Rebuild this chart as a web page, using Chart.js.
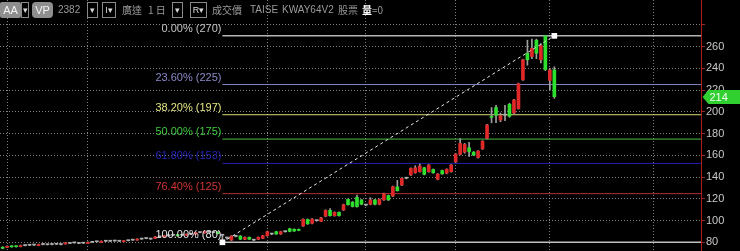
<!DOCTYPE html>
<html>
<head>
<meta charset="utf-8">
<script src="https://cdn.jsdelivr.net/npm/chart.js@4.4.1/dist/chart.umd.min.js"></script>
<style>
  html, body { margin: 0; padding: 0; background: #000; }
  #wrap { position: relative; width: 740px; height: 251px; overflow: hidden; }
  #bar { position: absolute; left: 0; top: 0; width: 400px; height: 20px;
         font-family: "Liberation Sans", "Noto Sans CJK TC", sans-serif; font-size: 10px; color: #9a9a9a; }
  #bar span { position: absolute; top: 4px; line-height: 12px; white-space: nowrap; }
  #bar .box { top: 2px; height: 16px; line-height: 14px; box-sizing: border-box; border: 1px solid #8a8a8a;
              text-align: center; color: #d8d8d8; font-size: 9px; }
  #bar .fill { top: 2px; height: 16px; line-height: 16px; background: #8e8e8e; color: #f4f4f4;
               text-align: center; border-radius: 2px; font-size: 11px; }
  #bar .cjk { font-family: "Noto Sans CJK TC", sans-serif; }
</style>
</head>
<body>
<div id="wrap">
  <canvas id="kchart" width="740" height="251"></canvas>
  <div id="bar">
    <span class="fill" style="left:0;width:21px">AA</span>
    <span class="box" style="left:21px;width:8px">▾</span>
    <span class="fill" style="left:32px;width:21px;border-radius:4px">VP</span>
    <span style="left:58px">2382</span>
    <span class="box" style="left:87px;width:11px">▾</span>
    <span class="box" style="left:102px;width:14px">I▾</span>
    <span class="cjk" style="left:122px">廣達</span>
    <span class="cjk" style="left:148px">1 日</span>
    <span class="box" style="left:172px;width:11px">▾</span>
    <span class="box" style="left:190px;width:17px">R▾</span>
    <span class="cjk" style="left:212px">成交價</span>
    <span style="left:250px">TAISE</span>
    <span style="left:282px">KWAY64V2</span>
    <span class="cjk" style="left:338px">股票</span>
    <span class="cjk" style="left:362px"><b style="color:#fff">量</b>=0</span>
  </div>
</div>
<script>
// 日K資料 (由左至右, 共124根)
const opens = [
  75.5, 75.3, 76.5, 76.5, 76, 77, 77.3, 77.5, 77, 78, 77.8, 78, 78.2, 78, 78.5, 79, 79.5, 79, 79.2, 79,
  80, 80.5, 80, 81, 81, 81.2, 81, 80.5, 81.5, 82, 82, 83, 83.5, 83, 83.5, 85, 85, 86, 86.5, 87,
  86.5, 86.5, 87.5, 87.5, 89, 88.5, 89.5, 89, 89.5, 86.5, 84, 82, 85.5, 85.8, 82.8, 84.6, 82, 82.8, 83.7, 86,
  87.6, 89.8, 87.6, 89.8, 92.5, 92, 91.9, 95, 101, 97.5, 99.9, 99.3, 104, 109.4, 104.5, 107.6, 109.7, 119.5, 117, 121.4,
  119, 114.3, 115, 119, 115, 119, 123, 122.6, 131, 132.7, 139, 142, 144, 145, 148.6, 145, 147, 138, 146, 143.5,
  145, 154, 161, 163, 167, 163, 158, 166, 175.7, 196, 204, 192.5, 197, 207, 199, 203, 229.5, 254, 251, 266,
  248, 270, 229, 238.6
];
const highs = [
  76, 76.8, 77, 76.8, 77.5, 77.4, 77.7, 77.9, 78.4, 78.3, 78.2, 78.4, 78.6, 78.3, 79.8, 79.4, 79.8, 79.4, 79.5, 80.4,
  80.3, 80.8, 81.4, 81.3, 81.4, 81.5, 81.3, 81.8, 81.8, 82.3, 83.4, 83.3, 83.8, 83.3, 85.4, 85.3, 86.4, 86.3, 86.8, 87.3,
  86.8, 87.8, 87.8, 89.4, 89.3, 90.4, 89.8, 89.3, 89.8, 87, 84.5, 86.2, 86, 86.2, 85, 85, 82.5, 85, 86.5, 90.3,
  88.2, 90.2, 90.2, 90.3, 93, 92.4, 92.3, 101.7, 101.5, 101.9, 100.4, 102.9, 109.9, 111, 108.1, 108.1, 115.1, 120, 117.5, 123.5,
  119.5, 115, 121, 119.5, 120, 125.2, 123.5, 131.7, 137, 139.4, 139.8, 148.5, 150.5, 152, 149.1, 151.6, 147.5, 143.3, 146.5, 147.7,
  151.6, 161.7, 175.5, 171, 172, 163.5, 164.5, 173.5, 188.5, 204, 206, 199, 206, 208, 211.5, 226.5, 248.5, 266, 267, 267,
  263, 270.5, 240, 241.5
];
const lows = [
  74, 75, 75.5, 75.6, 75.8, 76.6, 77, 77.2, 76.8, 77.7, 77.5, 77.7, 77.9, 77.6, 78.3, 78.7, 79.1, 78.7, 78.9, 78.8,
  79.7, 80.2, 79.8, 80.7, 80.6, 80.9, 80.7, 80.3, 81.2, 81.7, 81.8, 82.7, 83.2, 82.7, 83.3, 84.7, 84.8, 85.7, 86.2, 85.7,
  86.2, 86.3, 87.2, 87.3, 88.7, 88.3, 89.2, 88.7, 87.7, 80, 83, 81.6, 85, 82.4, 82.4, 82.4, 81.6, 82.4, 83.3, 85.6,
  87, 87.2, 87.2, 89.3, 89.6, 90, 90.6, 94.6, 96.5, 97, 99.4, 98.9, 103.5, 104, 104, 104, 109.2, 114.1, 112.5, 112.3,
  114.5, 113.7, 114.5, 114.5, 114.5, 118.5, 118.5, 122, 127, 132.2, 138.4, 141.5, 143.5, 144.5, 142, 144.5, 143.5, 137.5, 142.5, 143,
  144.5, 153.5, 160.5, 162, 159, 159.8, 157.5, 165.5, 175.2, 190, 190, 191, 192, 195, 198.5, 202.5, 229, 243, 249, 249,
  245, 238, 220, 212.5
];
const closes = [
  74.5, 76.3, 75.8, 76, 77, 77, 77.3, 77.5, 78, 78, 77.8, 78, 78.2, 78, 79.5, 79, 79.5, 79, 79.2, 80,
  80, 80.5, 81, 81, 81, 81.2, 81, 81.5, 81.5, 82, 83, 83, 83.5, 83, 85, 85, 86, 86, 86.5, 86,
  86.5, 87.5, 87.5, 89, 89, 90, 89.5, 89, 88, 86.5, 84, 85.8, 85.5, 82.8, 84.6, 82.8, 82, 84.6, 86.1, 89.8,
  87.6, 87.6, 89.8, 89.8, 90, 90.4, 91, 101.2, 97, 101.4, 99.9, 102.4, 109.4, 104.5, 107.6, 104.5, 114.6, 114.6, 113, 112.8,
  115, 114.3, 119, 115, 119.5, 124.7, 119, 131.2, 127.5, 138.9, 139, 148, 148.6, 150.2, 142.5, 151.1, 144, 142.8, 143, 147.2,
  151.1, 161.2, 171, 170, 163.5, 160.3, 164, 173, 188, 195, 197, 196.5, 197, 196, 211, 226, 248, 248, 258.5, 254,
  261, 239, 238.6, 214
];

// 月份分隔線 (K棒序號) 與價格刻度
const monthLines = [1, 19, 59, 81, 101, 122, 145];
const yTicks = [80, 100, 120, 140, 160, 180, 200, 220, 240, 260, 280];

// 黃金切割率
const fibStart = { idx: 49, price: 80 };
const fibEnd = { idx: 123, price: 270 };
const fibPercents = ['0.00%', '23.60%', '38.20%', '50.00%', '61.80%', '76.40%', '100.00%'];
const fibLevels = [270, 225.2, 197.4, 175, 152.6, 124.8, 80];
const fibShown = [270, 225, 197, 175, 153, 125, 80];
const fibLineColors = ['#b4b4b4', '#8585c4', '#d8d878', '#48c048', '#2020a8', '#b43030', '#c0c0c0'];
const fibTextColors = ['#c4c4c4', '#8a8ac8', '#e4e484', '#40c840', '#2424b8', '#d03434', '#e4e4e4'];

const X_MIN = -0.59, X_MAX = 155.7;
const UP = '#e02828', DOWN = '#2ee02e', FLAT = '#b0b0b0', WICK = '#a0a0a0';
const GRID = 'rgba(170,170,170,0.75)';

const bodyColor = (i) => closes[i] > opens[i] ? UP : (closes[i] < opens[i] ? DOWN : FLAT);

const fibDatasets = fibLevels.map((lv, k) => ({
  type: 'line',
  data: [{ x: fibStart.idx, y: lv }, { x: X_MAX, y: lv }],
  borderColor: fibLineColors[k],
  borderWidth: k === 0 || k === 6 ? 1.5 : 1,
  pointRadius: 0,
  order: 5
}));

const noPad = (s) => { s.paddingTop = 0; s.paddingBottom = 0; s.paddingLeft = 0; s.paddingRight = 0; };

const fibText = {
  id: 'fibText',
  afterDatasetsDraw(chart) {
    const { ctx, scales: { x, y } } = chart;
    const right = x.getPixelForValue(fibStart.idx) - 1;
    ctx.save();
    ctx.font = '11px "Liberation Sans", Arial, sans-serif';
    ctx.textAlign = 'right';
    ctx.textBaseline = 'middle';
    fibLevels.forEach((lv, k) => {
      ctx.fillStyle = fibTextColors[k];
      ctx.fillText(`${fibPercents[k]} (${fibShown[k]})`, right, y.getPixelForValue(lv) - 7);
    });
    ctx.restore();
  }
};

// 右側軸線與最新價標籤
const lastTag = {
  id: 'lastTag',
  afterDraw(chart) {
    const { ctx, chartArea, scales: { y } } = chart;
    const last = closes[closes.length - 1];
    const py = Math.round(y.getPixelForValue(last));
    const ax = Math.round(chartArea.right) + 0.5;
    ctx.save();
    ctx.strokeStyle = '#a81e1e';
    ctx.lineWidth = 1;
    ctx.beginPath();
    ctx.moveTo(ax, 0);
    ctx.lineTo(ax, chart.height);
    ctx.stroke();
    ctx.fillStyle = '#30d030';
    ctx.beginPath();
    ctx.moveTo(ax + 1, py);
    ctx.lineTo(ax + 7, py - 7);
    ctx.lineTo(chart.width, py - 7);
    ctx.lineTo(chart.width, py + 7);
    ctx.lineTo(ax + 7, py + 7);
    ctx.closePath();
    ctx.fill();
    ctx.fillStyle = '#f4fff4';
    ctx.font = '11px "Liberation Sans", Arial, sans-serif';
    ctx.textAlign = 'left';
    ctx.textBaseline = 'middle';
    ctx.fillText(String(last), ax + 8, py + 0.5);
    ctx.restore();
  }
};

new Chart(document.getElementById('kchart'), {
  type: 'bar',
  data: {
    datasets: [
      {
        type: 'line',
        data: [{ x: fibStart.idx, y: fibStart.price }, { x: fibEnd.idx, y: fibEnd.price }],
        borderColor: '#e8e8e8',
        borderWidth: 1,
        borderDash: [3, 3],
        pointStyle: 'rect',
        pointRadius: 4,
        pointBackgroundColor: '#ffffff',
        pointBorderWidth: 0,
        order: 0
      },
      {
        data: opens.map((o, i) => ({ x: i, y: [lows[i], highs[i]] })),
        backgroundColor: WICK,
        barThickness: 1,
        grouped: false,
        order: 3
      },
      {
        data: opens.map((o, i) => ({ x: i, y: [o, closes[i]] })),
        backgroundColor: opens.map((o, i) => bodyColor(i)),
        barThickness: 3,
        minBarLength: 1,
        grouped: false,
        order: 2
      },
      ...fibDatasets
    ]
  },
  options: {
    responsive: false,
    animation: false,
    events: [],
    layout: { padding: 0, autoPadding: false },
    plugins: { legend: { display: false }, tooltip: { enabled: false } },
    scales: {
      x: {
        type: 'linear',
        min: X_MIN,
        max: X_MAX,
        offset: false,
        afterBuildTicks: (s) => { s.ticks = monthLines.map(v => ({ value: v })); },
        afterFit: (s) => { s.height = 0; noPad(s); },
        ticks: { display: false },
        grid: { offset: false, color: GRID, drawTicks: false },
        border: { display: false, dash: [1, 2] }
      },
      y: {
        position: 'right',
        min: 72,
        max: 303,
        afterBuildTicks: (s) => { s.ticks = yTicks.map(v => ({ value: v })); },
        afterFit: (s) => { s.width = 39; noPad(s); },
        ticks: {
          color: '#c8c8c8',
          padding: 1,
          font: { family: '"Liberation Sans", Arial, sans-serif', size: 11 },
          callback: (v) => (v > 270 ? '' : String(v))
        },
        grid: { color: GRID, tickColor: '#a02424', tickLength: 4, tickBorderDash: [] },
        border: { display: false, dash: [1, 2] }
      }
    }
  },
  plugins: [fibText, lastTag]
});
</script>
</body>
</html>
